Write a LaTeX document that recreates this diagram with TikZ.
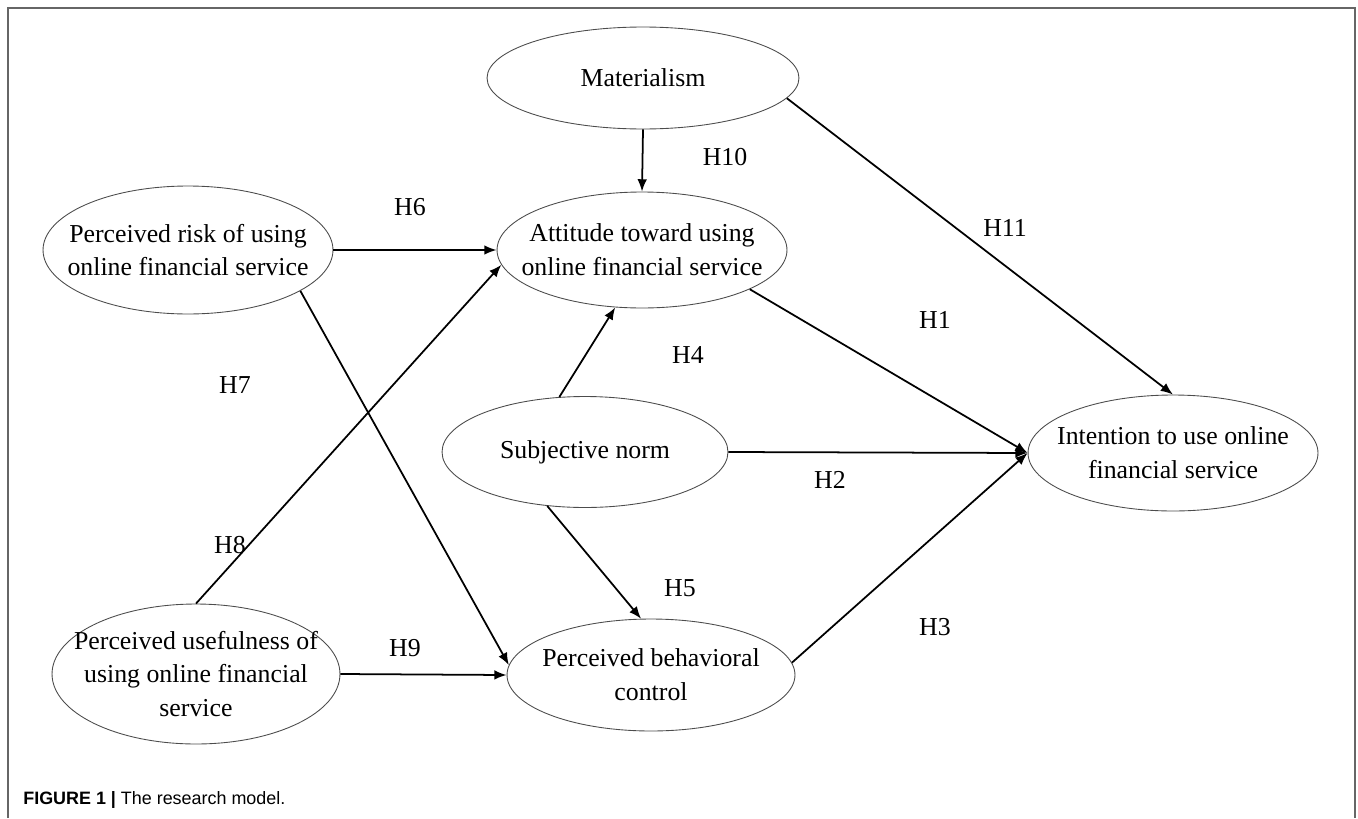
\documentclass[tikz,border=0pt]{standalone}
\usepackage{fontspec}
\setmainfont{Liberation Serif}
\newfontfamily\capfont{Liberation Sans}
\usetikzlibrary{arrows.meta,positioning,shapes.geometric}
\tikzset{construct/.style={ellipse, draw=black!70, line width=0.5pt, inner sep=-2cm,
    align=center, font=\fontsize{14.7}{19.3}\selectfont}}
\tikzset{link/.style={line width=1pt, -{Latex[length=7pt,width=5.5pt]}}}
\tikzset{hyp/.style={font=\fontsize{14.7}{17}\selectfont}}

\begin{document}
\begin{tikzpicture}[x=0.02cm,y=-0.02cm]
  \useasboundingbox (0,0) rectangle (1358,818);
  \draw[black!60, line width=1.1pt] (8,818) -- (8,8) -- (1355,8) -- (1355,818);

  % constructs
  \node[construct, minimum width=6.24cm, minimum height=2.04cm] (mat) at (643,78) {Materialism};
  \node[construct, minimum width=5.8cm, minimum height=2.32cm] (att) at (642,250) {Attitude toward using\\online financial service};
  \node[construct, minimum width=5.8cm, minimum height=2.56cm] (risk) at (188,250) {Perceived risk of using\\online financial service};
  \node[construct, minimum width=5.72cm, minimum height=2.22cm] (sn) at (585,452) {Subjective norm};
  \node[construct, minimum width=5.8cm, minimum height=2.32cm] (int) at (1173,453) {Intention to use online\\financial service};
  \node[construct, minimum width=5.76cm, minimum height=2.8cm] (use) at (196,674) {Perceived usefulness of\\using online financial\\service};
  \node[construct, minimum width=5.76cm, minimum height=2.24cm] (pbc) at (651,675) {Perceived behavioral\\control};

  % paths
  \draw[link] (mat.south) -- (att.north);
  \draw[link] (mat.-8) -- (int.north);
  \draw[link] (risk.east) -- (att.west);
  \draw[link] (use.north) -- (att.186);
  \draw[link] (risk.-20) -- (pbc.176);
  \draw[link] (use.east) -- (pbc.west);
  \draw[link] (sn.115) -- (att.245);
  \draw[link] (sn.235) -- (pbc.100);
  \draw[link] (sn.east) -- (int.west);
  \draw[link] (att.-20) -- (int.west);
  \draw[link] (pbc.5) -- (int.west);

  % hypotheses
  \node[hyp] (h1) at (935,320) {H1};
  \node[hyp] (h2) at (830,480) {H2};
  \node[hyp] (h3) at (935,627) {H3};
  \node[hyp] (h4) at (688,355) {H4};
  \node[hyp] (h5) at (680,588) {H5};
  \node[hyp] (h6) at (410,207) {H6};
  \node[hyp] (h7) at (235,385) {H7};
  \node[hyp] (h8) at (230,545) {H8};
  \node[hyp] (h9) at (405,648) {H9};
  \node[hyp] (h10) at (725,157) {H10};
  \node[hyp] (h11) at (1005,228) {H11};

  \node[anchor=west, inner sep=0pt, font=\capfont\fontsize{10.2}{12}\selectfont] (cap) at (23,800)
    {\textbf{FIGURE 1 |} The research model.};
\end{tikzpicture}
\end{document}
